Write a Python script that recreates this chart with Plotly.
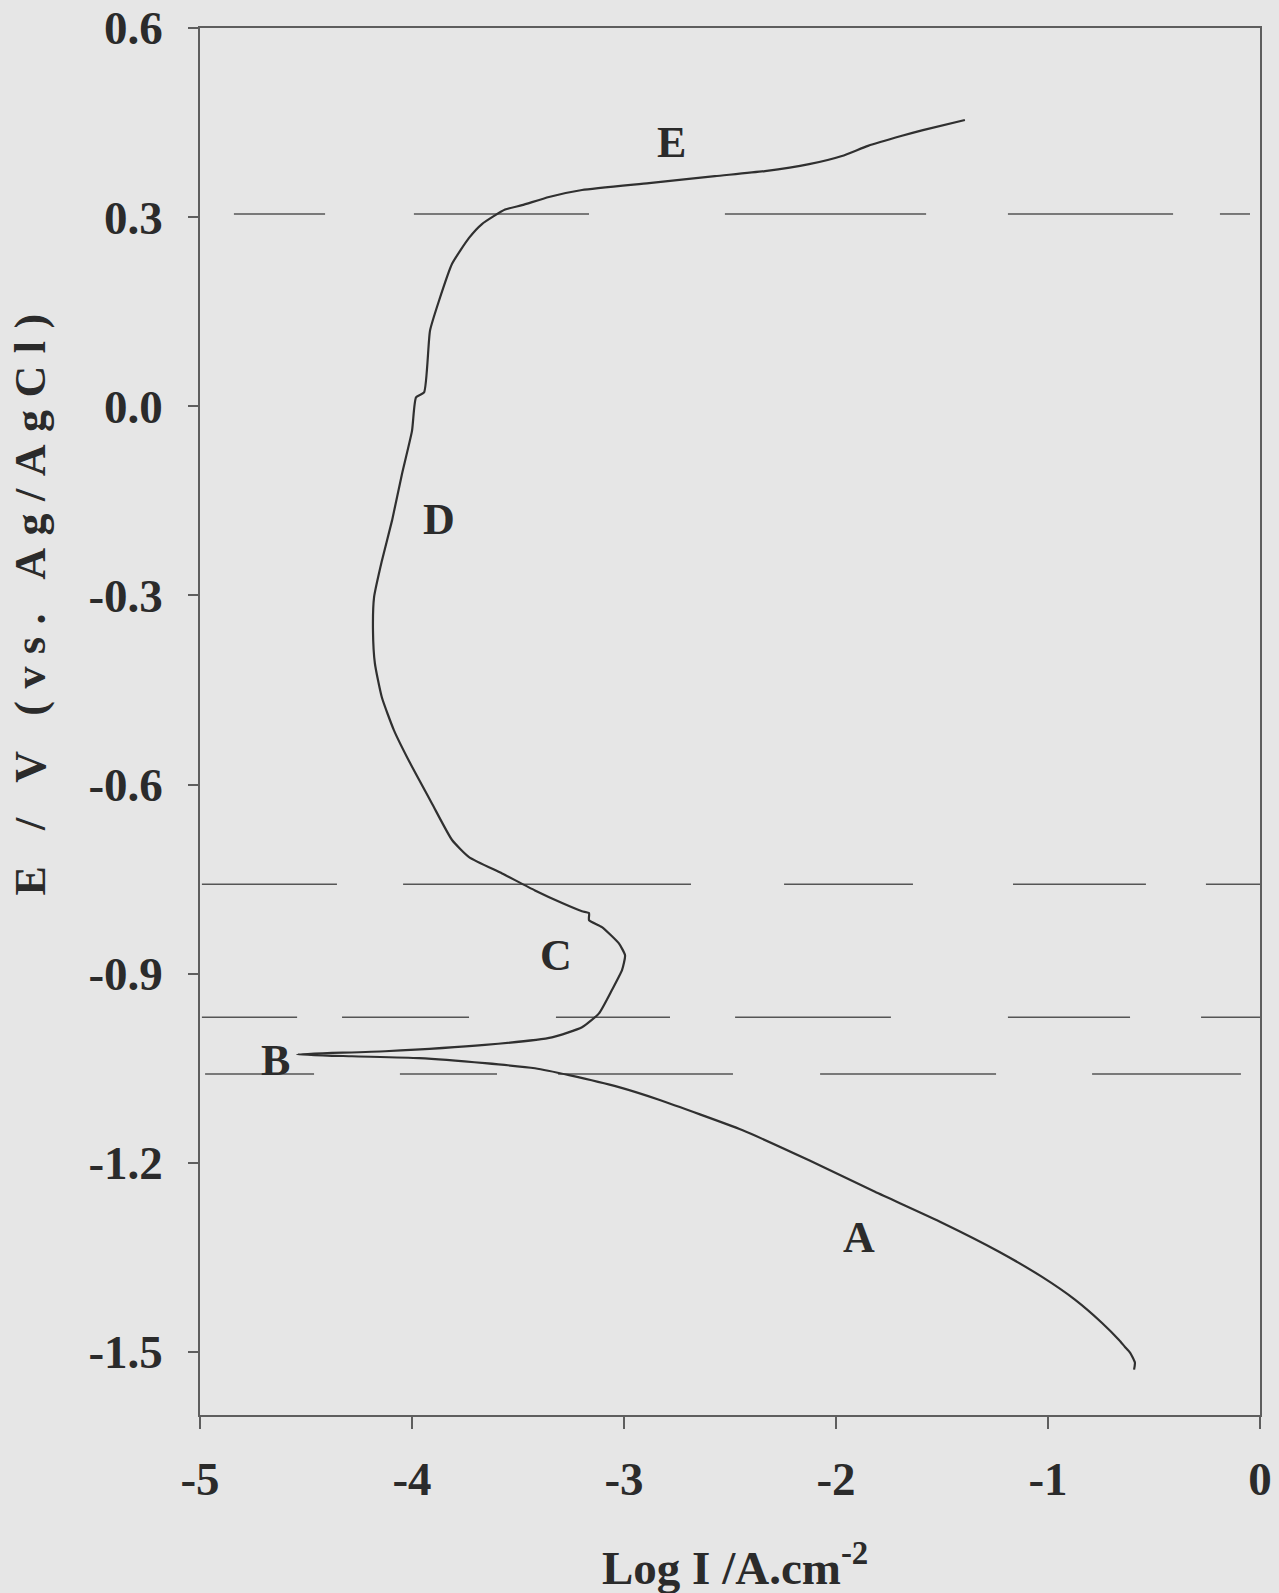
import plotly.graph_objects as go

# Potentiodynamic polarisation curve: log current density vs. potential
log_i = [-0.594, -0.590, -0.613, -0.637, -0.665, -0.745, -0.873, -1.028, -1.231, -1.500,
         -1.816, -2.127, -2.443, -2.835, -3.024, -3.259, -3.420, -3.656, -3.967, -4.283,
         -4.542, -4.127, -3.656, -3.340, -3.198, -3.118, -3.057, -3.009, -2.995, -3.024,
         -3.104, -3.165, -3.165, -3.198, -3.292, -3.420, -3.575, -3.731, -3.811, -3.906,
         -4.009, -4.085, -4.142, -4.175, -4.184, -4.179, -4.142, -4.094, -4.047, -4.000,
         -3.981, -3.943, -3.915, -3.873, -3.811, -3.731, -3.670, -3.561, -3.481, -3.354,
         -3.198, -2.882, -2.571, -2.335, -2.127, -1.972, -1.849, -1.689, -1.590, -1.392]
potential = [-1.528, -1.517, -1.501, -1.492, -1.481, -1.454, -1.417, -1.381, -1.341, -1.295,
             -1.246, -1.196, -1.148, -1.100, -1.080, -1.061, -1.050, -1.042, -1.034, -1.031,
             -1.028, -1.023, -1.013, -1.001, -0.985, -0.963, -0.926, -0.894, -0.871, -0.852,
             -0.826, -0.815, -0.804, -0.801, -0.788, -0.768, -0.741, -0.715, -0.688, -0.630,
             -0.566, -0.514, -0.462, -0.408, -0.356, -0.303, -0.245, -0.181, -0.107, -0.039,
             0.014, 0.022, 0.120, 0.167, 0.226, 0.267, 0.289, 0.312, 0.319, 0.332,
             0.343, 0.354, 0.365, 0.373, 0.384, 0.397, 0.413, 0.429, 0.438, 0.454]

# Region boundaries drawn as broken horizontal guides (potential level, dash extents in log I)
guide_levels = [0.305, -0.758, -0.969, -1.059]
guide_dashes = [
    [(-4.840, -4.410), (-3.991, -3.165), (-2.524, -1.575), (-1.189, -0.410), (-0.189, -0.047)],
    [(-4.991, -4.354), (-4.042, -2.684), (-2.245, -1.637), (-1.165, -0.538), (-0.255, 0.0)],
    [(-4.991, -4.542), (-4.330, -3.731), (-3.321, -2.783), (-2.476, -1.741), (-1.189, -0.613), (-0.278, 0.0)],
    [(-4.976, -4.462), (-4.057, -3.599), (-3.311, -2.486), (-2.075, -1.245), (-0.792, -0.090)],
]

# Region letters
region_names = ["E", "D", "C", "B", "A"]
region_x = [-2.774, -3.873, -3.321, -4.642, -1.892]
region_y = [0.418, -0.180, -0.871, -1.037, -1.318]

x_ticks = [-5, -4, -3, -2, -1, 0]
x_ticktext = ["-5", "-4", "-3", "-2", "-1", "0"]
y_ticks = [0.6, 0.3, 0.0, -0.3, -0.6, -0.9, -1.2, -1.5]
y_ticktext = ["0.6", "0.3", "0.0", "-0.3", "-0.6", "-0.9", "-1.2", "-1.5"]

BG = "#e6e6e6"
INK = "#2b2b2b"
SERIF = "Liberation Serif"

fig = go.Figure()

for level, dashes in zip(guide_levels, guide_dashes):
    gx, gy = [], []
    for x0, x1 in dashes:
        gx += [x0, x1, None]
        gy += [level, level, None]
    fig.add_trace(go.Scatter(x=gx, y=gy, mode="lines",
                             line=dict(color="#555555", width=1.5),
                             hoverinfo="skip", showlegend=False))

fig.add_trace(go.Scatter(x=log_i, y=potential, mode="lines",
                         line=dict(color="#303030", width=2.2, shape="spline", smoothing=0.5),
                         showlegend=False))

for name, rx, ry in zip(region_names, region_x, region_y):
    fig.add_annotation(x=rx, y=ry, text=name, showarrow=False,
                       xanchor="center", yanchor="middle",
                       font=dict(family=SERIF, size=44, color=INK, weight="bold"))

fig.add_annotation(xref="paper", yref="paper", x=-0.160, y=0.589,
                   text='<span style="letter-spacing:12.5px">E / V (vs. Ag/AgCl)</span>',
                   textangle=-90, showarrow=False,
                   xanchor="center", yanchor="middle",
                   font=dict(family=SERIF, size=44, color=INK, weight="bold"))
fig.add_annotation(xref="paper", yref="paper", x=0.505, y=-0.108,
                   text="Log I /A.cm<sup>-2</sup>", showarrow=False,
                   xanchor="center", yanchor="middle",
                   font=dict(family=SERIF, size=47, color=INK, weight="bold"))

axis_common = dict(showgrid=False, zeroline=False, showline=True, mirror=True,
                   automargin=False,
                   linecolor="#5e5e5e", linewidth=1.5, ticks="outside",
                   tickcolor="#5e5e5e", tickwidth=1.5,
                   tickfont=dict(family=SERIF, size=47, color=INK, weight="bold"))

fig.update_xaxes(range=[-5, 0], tickvals=x_ticks, ticktext=x_ticktext,
                 ticklen=12, ticklabelstandoff=10, **axis_common)
fig.update_yaxes(range=[-1.6, 0.6], tickvals=y_ticks, ticktext=y_ticktext,
                 ticklen=10, ticklabelstandoff=16, **axis_common)

fig.update_layout(width=1279, height=1593,
                  margin=dict(l=200, r=19, t=28, b=178),
                  paper_bgcolor=BG, plot_bgcolor=BG)

fig.write_html("out.html")
